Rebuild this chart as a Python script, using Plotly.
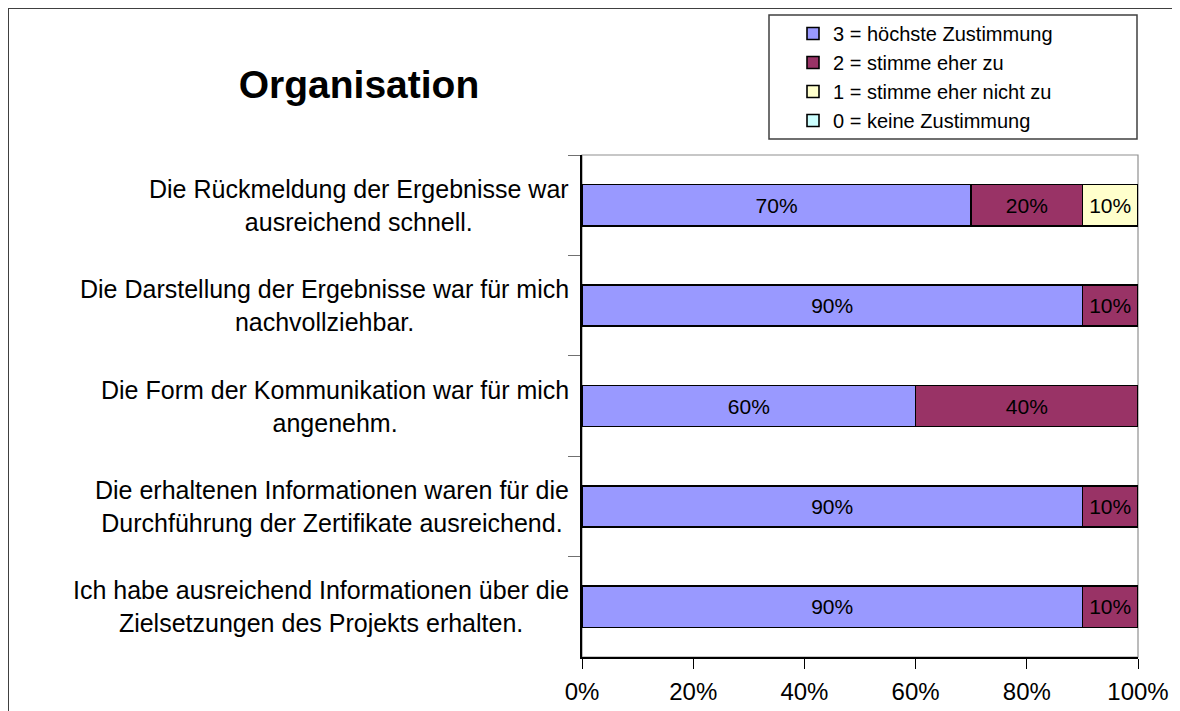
import plotly.graph_objects as go

categories = [
    "Die Rückmeldung der Ergebnisse war<br>ausreichend schnell.",
    "Die Darstellung der Ergebnisse war für mich<br>nachvollziehbar.",
    "Die Form der Kommunikation war für mich<br>angenehm.",
    "Die erhaltenen Informationen waren für die<br>Durchführung der Zertifikate ausreichend.",
    "Ich habe ausreichend Informationen über die<br>Zielsetzungen des Projekts erhalten.",
]
series_names = [
    "3 = höchste Zustimmung",
    "2 = stimme eher zu",
    "1 = stimme eher nicht zu",
    "0 = keine Zustimmung",
]
values_3 = [70, 90, 60, 90, 90]
values_2 = [20, 10, 40, 10, 10]
values_1 = [10, 0, 0, 0, 0]
values_0 = [0, 0, 0, 0, 0]
series_values = [values_3, values_2, values_1, values_0]
colors = ["#9999FF", "#993366", "#FFFFCC", "#CCFFFF"]
x_ticks = [0, 20, 40, 60, 80, 100]
x_tick_labels = ["0%", "20%", "40%", "60%", "80%", "100%"]

FONT = "Liberation Sans, Arial, sans-serif"

# page is rendered with an 8px body margin
OFF = 8
W, H = 1180 - OFF, 711 - OFF
L, R, T, B = 582 - OFF, 42, 155 - OFF, 54
pw, ph = W - L - R, H - T - B


def px_x(page_x):
    return (page_x - OFF - L) / pw


def px_y(page_y):
    return (H - B - (page_y - OFF)) / ph


fig = go.Figure()
for name, vals, col in zip(series_names, series_values, colors):
    fig.add_trace(go.Bar(
        y=categories, x=vals, name=name, orientation="h",
        marker=dict(color=col, line=dict(color="black", width=1.6)),
        text=[f"{v}%" if v else "" for v in vals],
        textposition="inside", insidetextanchor="middle", textangle=0,
        constraintext="none",
        textfont=dict(family=FONT, size=21, color="black"),
        hoverinfo="skip",
    ))

annotations = []
for c in categories:
    annotations.append(dict(
        x=px_x(571), xref="paper", y=c, yref="y", text=c,
        xanchor="right", yanchor="middle", align="center", showarrow=False,
        font=dict(family=FONT, size=25, color="black"),
    ))

shapes = [
    dict(type="rect", xref="x domain", yref="y domain", x0=0, x1=1, y0=0, y1=1,
         line=dict(color="#909090", width=1.2), layer="below"),
    dict(type="rect", xref="paper", yref="paper", x0=px_x(8), x1=px_x(1300),
         y0=px_y(8), y1=px_y(800), line=dict(color="#404040", width=2),
         fillcolor="rgba(0,0,0,0)", layer="below"),
    dict(type="rect", xref="paper", yref="paper", x0=px_x(769), x1=px_x(1137),
         y0=px_y(15), y1=px_y(139), line=dict(color="#404040", width=1.5),
         fillcolor="white", layer="below"),
]

fig.update_layout(
    width=W, height=H,
    margin=dict(l=L, r=R, t=T, b=B, autoexpand=False),
    paper_bgcolor="white", plot_bgcolor="white",
    barmode="stack", bargap=0.59,
    font=dict(family=FONT, color="black"),
    title=dict(text="<b>Organisation</b>", x=(359 - OFF) / W, xanchor="center",
               y=1 - (84 - OFF) / H, yanchor="middle",
               font=dict(family=FONT, size=39, color="black")),
    legend=dict(
        x=px_x(793), xanchor="left", y=px_y(14), yanchor="top",
        traceorder="normal", borderwidth=0,
        bgcolor="rgba(0,0,0,0)", font=dict(family=FONT, size=20, color="black"),
        tracegroupgap=0,
    ),
    showlegend=True,
    xaxis=dict(range=[0, 100], tickvals=x_ticks, ticktext=x_tick_labels,
               showgrid=False, zeroline=False, showline=True,
               linecolor="black", linewidth=1.5, ticks="outside", ticklen=10,
               tickcolor="black", tickwidth=1.2,
               tickfont=dict(family=FONT, size=24, color="black"),
               ticklabelstandoff=2, fixedrange=True, automargin=False),
    yaxis=dict(autorange="reversed", showticklabels=False, showgrid=False,
               zeroline=False, showline=True, linecolor="black", linewidth=1.5,
               ticks="outside", tickson="boundaries", ticklen=12,
               tickcolor="#707070", tickwidth=1.2, fixedrange=True,
               automargin=False),
    annotations=annotations,
    shapes=shapes,
)

fig.write_html("out.html")
